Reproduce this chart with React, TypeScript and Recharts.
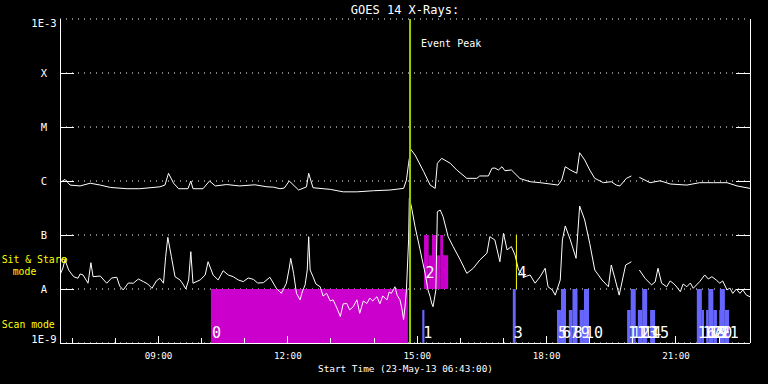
import React from 'react';
import {
  ComposedChart, Line, XAxis, YAxis, CartesianGrid, ReferenceArea,
  ReferenceLine, ReferenceDot, Scatter,
} from 'recharts';

// ---------- data ----------
const TITLE = 'GOES 14 X-Rays:';
const X_LABEL = 'Start Time (23-May-13 06:43:00)';
const START_MINUTES = 6 * 60 + 43; // 06:43
const SPAN_MINUTES = 960;

// hourly ticks in minutes since 06:43
const hourTicks = [17, 77, 137, 197, 257, 317, 377, 437, 497, 557, 617, 677, 737, 797, 857, 917];
const labeledHourTicks = [137, 317, 497, 677, 857];

const fluxTicks = [1e-9, 1e-8, 1e-7, 1e-6, 1e-5, 1e-4, 1e-3];
const fluxTickLabels = ['1E-9', 'A', 'B', 'C', 'M', 'X', '1E-3'];

// 0.1-0.8 nm channel  [minutes, W/m^2]
const longChannel: [number, number | null][] = [
  [0, 0.93e-6], [7, 1.07e-6], [14, 0.84e-6], [28, 0.81e-6], [42, 0.91e-6], [56, 0.84e-6],
  [70, 0.76e-6], [93, 0.72e-6], [111, 0.72e-6], [139, 0.78e-6], [146, 0.84e-6], [151, 1.39e-6],
  [158, 0.91e-6], [165, 0.72e-6], [178, 0.72e-6], [182, 1.0e-6], [185, 0.72e-6], [199, 0.72e-6],
  [208, 1.0e-6], [216, 0.81e-6], [232, 0.86e-6], [250, 0.81e-6], [271, 0.85e-6], [288, 0.78e-6],
  [297, 0.77e-6], [306, 0.72e-6], [312, 0.74e-6], [319, 1.0e-6], [332, 0.68e-6], [343, 0.78e-6],
  [346, 1.39e-6], [352, 0.75e-6], [376, 0.70e-6], [394, 0.63e-6], [413, 0.63e-6], [436, 0.66e-6],
  [459, 0.68e-6], [478, 0.73e-6], [482, 1.04e-6], [485, 2.13e-6], [488, 3.86e-6], [494, 3.03e-6],
  [506, 1.49e-6], [515, 0.84e-6], [522, 0.73e-6], [525, 2.13e-6], [531, 2.63e-6], [543, 2.13e-6],
  [552, 1.60e-6], [566, 1.12e-6], [580, 1.12e-6], [584, 1.24e-6], [596, 1.24e-6], [601, 1.72e-6],
  [605, 1.74e-6], [610, 1.60e-6], [615, 1.84e-6], [619, 1.55e-6], [628, 1.60e-6], [640, 1.11e-6],
  [654, 0.97e-6], [668, 0.93e-6], [682, 0.88e-6], [693, 0.84e-6], [698, 1.04e-6], [703, 1.84e-6],
  [710, 1.60e-6], [719, 1.39e-6], [723, 3.34e-6], [730, 2.45e-6], [737, 1.60e-6], [744, 1.12e-6],
  [756, 0.93e-6], [767, 0.97e-6], [774, 0.84e-6], [779, 0.81e-6], [788, 1.12e-6], [795, 1.24e-6],
  [800, null], [806, 1.17e-6], [821, 0.93e-6], [835, 1.01e-6], [849, 0.88e-6], [872, 0.84e-6],
  [890, 0.93e-6], [909, 0.93e-6], [928, 0.93e-6], [942, 0.81e-6], [960, 0.73e-6],
];

// 0.05-0.4 nm channel  [minutes, W/m^2]
const shortChannel: [number, number | null][] = [
  [0, 1.82e-8], [4, 2.45e-8], [7, 3.44e-8], [12, 2.25e-8], [19, 1.69e-8], [25, 1.58e-8], [28, 1.9e-8],
  [32, 1.82e-8], [39, 1.28e-8], [43, 3.07e-8], [46, 1.69e-8], [56, 1.74e-8], [65, 1.28e-8], [72, 1.6e-8],
  [79, 1.65e-8], [83, 1.14e-8], [88, 0.96e-8], [95, 1.29e-8], [102, 1.28e-8], [109, 1.53e-8],
  [116, 1.37e-8], [122, 1.24e-8], [128, 1.03e-8], [134, 1.41e-8], [139, 1.58e-8], [144, 1.28e-8],
  [147, 3.96e-8], [150, 9.06e-8], [155, 3.96e-8], [160, 1.69e-8], [167, 1.47e-8], [171, 1.24e-8],
  [175, 1.0e-8], [179, 1.47e-8], [182, 4.91e-8], [185, 1.28e-8], [195, 1.47e-8], [202, 1.82e-8],
  [206, 3.2e-8], [213, 1.82e-8], [220, 1.47e-8], [227, 2.18e-8], [234, 1.82e-8], [241, 1.69e-8],
  [248, 1.47e-8], [255, 1.37e-8], [262, 1.6e-8], [269, 1.51e-8], [275, 1.29e-8], [283, 1.31e-8],
  [292, 1.65e-8], [301, 1.03e-8], [308, 0.83e-8], [315, 1.28e-8], [319, 2.45e-8], [321, 3.7e-8],
  [325, 1.95e-8], [329, 0.83e-8], [334, 0.63e-8], [337, 0.88e-8], [341, 1.19e-8], [344, 2.25e-8],
  [346, 9.3e-8], [348, 2.25e-8], [352, 1.69e-8], [356, 1.24e-8], [362, 1.10e-8], [366, 0.74e-8],
  [371, 0.83e-8], [376, 0.6e-8], [380, 0.63e-8], [385, 0.45e-8], [390, 0.31e-8], [394, 0.53e-8],
  [399, 0.54e-8], [403, 0.41e-8], [408, 0.47e-8], [413, 0.63e-8], [417, 0.355e-8], [422, 0.6e-8],
  [427, 0.54e-8], [431, 0.68e-8], [435, 0.6e-8], [441, 0.72e-8], [445, 0.53e-8], [449, 0.74e-8],
  [455, 0.63e-8], [458, 0.88e-8], [461, 0.83e-8], [466, 1.10e-8], [469, 0.77e-8], [473, 0.63e-8],
  [476, 0.41e-8], [478, 0.27e-8], [480, 0.47e-8], [482, 0.96e-8], [485, 8.1e-8], [486, 4.8e-7],
  [489, 3.3e-7], [494, 1.43e-7], [501, 5.3e-8], [508, 1.95e-8], [512, 0.96e-8], [515, 0.72e-8],
  [517, 0.55e-8], [519, 0.47e-8], [523, 0.96e-8], [525, 2.7e-7], [529, 2.9e-7], [533, 2.18e-7],
  [540, 9.3e-8], [547, 6.1e-8], [557, 3.44e-8], [566, 1.95e-8], [575, 2.42e-8], [584, 3.44e-8],
  [594, 4.6e-8], [598, 9.3e-8], [605, 8.1e-8], [612, 3.2e-8], [617, 1.07e-7], [622, 5.3e-8],
  [628, 6.1e-8], [633, 4.27e-8], [638, 2.25e-8], [640, 2.09e-8], [647, 1.69e-8], [654, 1.82e-8],
  [661, 1.28e-8], [668, 1.69e-8], [675, 2.42e-8], [679, 1.10e-8], [685, 0.96e-8], [689, 0.77e-8],
  [696, 1.47e-8], [699, 8.1e-8], [703, 1.47e-7], [710, 8.1e-8], [718, 3.7e-8], [723, 3.44e-7],
  [730, 1.9e-7], [737, 7.0e-8], [744, 2.25e-8], [754, 1.47e-8], [763, 1.10e-8], [767, 2.78e-8],
  [772, 1.58e-8], [778, 0.77e-8], [787, 2.78e-8], [795, 3.2e-8], [800, null], [806, 2.25e-8],
  [814, 1.58e-8], [823, 1.19e-8], [828, 1.35e-8], [832, 2.42e-8], [837, 1.28e-8], [844, 1.10e-8],
  [849, 1.41e-8], [853, 1.28e-8], [857, 1.14e-8], [863, 0.89e-8], [867, 1.24e-8], [872, 1.10e-8],
  [877, 1.29e-8], [881, 1.03e-8], [890, 1.37e-8], [897, 1.82e-8], [902, 1.53e-8], [907, 1.69e-8],
  [913, 1.47e-8], [918, 1.28e-8], [922, 1.41e-8], [928, 0.96e-8], [932, 1.04e-8], [936, 0.83e-8],
  [941, 1.0e-8], [946, 0.83e-8], [950, 0.96e-8], [955, 0.77e-8], [960, 0.72e-8],
];

// observing-mode indicator levels
const SCAN_BASE = 1e-9;
const SCAN_TOP = 1e-8;
const SCAN_PARTIAL_TOP = 4.1e-9;
const SIT_STARE_BASE = 1e-8;

// scan blocks [start, end] in minutes
const longScan: [number, number][] = [[210, 484]];
const scanFull: [number, number][] = [
  [630, 634], [697, 704], [713, 720], [729, 736], [794, 801], [810, 817], [886, 893], [902, 909], [918, 925],
];
const scanPartial: [number, number][] = [
  [504, 507], [691.5, 697], [708, 713], [723, 729], [789, 794], [804, 810], [821, 828],
  [893, 896], [899, 902], [909, 914], [917, 918], [925, 931],
];
// sit & stare blocks [start, end, top flux]
const sitStare: [number, number, number][] = [
  [506.5, 513, 1e-7], [513, 517.5, 4.2e-8], [517.5, 524, 1e-7], [524, 529, 4.2e-8],
  [529, 533, 1e-7], [533, 540, 4.2e-8],
];

// numbered labels [text, start minute, mode]
const scanLabels: [string, number][] = [
  ['0', 210], ['1', 504], ['3', 630], ['5', 691.5], ['6', 697], ['7', 708], ['8', 713], ['9', 723],
  ['10', 729], ['11', 789], ['12', 794], ['13', 804], ['14', 810], ['15', 821], ['16', 886],
  ['17', 893], ['18', 899], ['19', 902], ['20', 909], ['21', 918],
];
const sitStareLabels: [string, number][] = [['2', 507], ['4', 635]];
const SCAN_LABEL_LEVEL = 1.25e-9;
const SIT_STARE_LABEL_LEVEL = 1.6e-8;

const EVENT_PEAK = 487;
const sitStareMarker: [number, number] = [635, 635];
const flareMarker: [number, number] = [6, 3.44e-8];

// ---------- helpers ----------
const longData = longChannel.map(([t, f]) => ({ t, f }));
const shortData = shortChannel.map(([t, f]) => ({ t, f }));
const labelData = [
  ...scanLabels.map(([label, t]) => ({ t, f: SCAN_LABEL_LEVEL, label })),
  ...sitStareLabels.map(([label, t]) => ({ t, f: SIT_STARE_LABEL_LEVEL, label })),
];

const MONO = '"DejaVu Sans Mono", "Liberation Mono", monospace';
const WHITE = '#ffffff';

const fmtTime = (t: number) => {
  const total = START_MINUTES + t;
  const h = Math.floor(total / 60) % 24;
  const m = total % 60;
  return `${String(h).padStart(2, '0')}:${String(m).padStart(2, '0')}`;
};

const LeftTick = (props: any) => {
  const { x, y, payload } = props;
  const i = fluxTicks.indexOf(payload.value);
  const last = fluxTicks.length - 1;
  const dy = i === last ? 8.3 : i === 0 ? 0 : 3.8;
  return (
    <g>
      {i > 0 && i < last && (
        <line x1={x} x2={x + 14} y1={y} y2={y} stroke={WHITE} strokeWidth={1} shapeRendering="crispEdges" />
      )}
      <text x={x - 16} y={y + dy} textAnchor="middle" fill={WHITE} fontFamily={MONO} fontSize={10.5}>
        {fluxTickLabels[i]}
      </text>
    </g>
  );
};

const RightTick = (props: any) => {
  const { x, y, payload } = props;
  const i = fluxTicks.indexOf(payload.value);
  if (i <= 0 || i >= fluxTicks.length - 1) return <g />;
  return <line x1={x - 14} x2={x} y1={y} y2={y} stroke={WHITE} strokeWidth={1} shapeRendering="crispEdges" />;
};

const BottomTick = (props: any) => {
  const { x, y, payload } = props;
  const major = labeledHourTicks.includes(payload.value);
  return (
    <g>
      <line x1={x} x2={x} y1={y} y2={y - (major ? 7 : 5)} stroke={WHITE} strokeWidth={1} shapeRendering="crispEdges" />
      {major && (
        <text x={x} y={y + 16} textAnchor="middle" fill={WHITE} fontFamily={MONO} fontSize={9.2}>
          {fmtTime(payload.value)}
        </text>
      )}
    </g>
  );
};

const TopTick = (props: any) => {
  const { x, y, payload } = props;
  const major = labeledHourTicks.includes(payload.value);
  return <line x1={x} x2={x} y1={y} y2={y + (major ? 7 : 4)} stroke={WHITE} strokeWidth={1} shapeRendering="crispEdges" />;
};

const NumberLabel = (props: any) => {
  const { cx, cy, payload } = props;
  return (
    <text x={cx + 1} y={cy} fill={WHITE} fontFamily={MONO} fontSize={15} textAnchor="start">
      {payload.label}
    </text>
  );
};

const EventLabel = (props: any) => {
  const vb = props.viewBox || {};
  return (
    <text x={vb.x + 11} y={vb.y + 28} fill={WHITE} fontFamily={MONO} fontSize={10}>
      Event Peak
    </text>
  );
};

const axisLine = { stroke: WHITE, strokeWidth: 1, shapeRendering: 'crispEdges' } as any;

export default function App() {
  return (
    <div style={{ position: 'fixed', left: 0, top: 0, width: 768, height: 384, background: '#000', overflow: 'hidden' }}>
      <ComposedChart width={768} height={384} margin={{ top: 19, right: 0, bottom: 0, left: 0 }}>
        <CartesianGrid horizontal vertical={false} stroke={WHITE} strokeDasharray="1 5" />
        <XAxis
          dataKey="t" type="number" domain={[0, SPAN_MINUTES]} allowDataOverflow ticks={hourTicks} interval={0}
          height={41} tickSize={0} tickMargin={0} axisLine={axisLine} tickLine={false} tick={BottomTick}
        />
        <XAxis
          xAxisId="top" orientation="top" type="number" domain={[0, SPAN_MINUTES]} allowDataOverflow ticks={hourTicks}
          interval={0} height={0} tickSize={0} tickMargin={0} axisLine={axisLine} tickLine={false} tick={TopTick}
        />
        <YAxis
          type="number" scale="log" domain={[1e-9, 1e-3]} allowDataOverflow ticks={fluxTicks} interval={0}
          width={60} tickSize={0} tickMargin={0} axisLine={axisLine} tickLine={false} tick={LeftTick}
        />
        <YAxis
          yAxisId="r" orientation="right" type="number" scale="log" domain={[1e-9, 1e-3]} allowDataOverflow
          ticks={fluxTicks} interval={0} width={18} tickSize={0} tickMargin={0} axisLine={axisLine}
          tickLine={false} tick={RightTick}
        />

        {longScan.map(([a, b], i) => (
          <ReferenceArea key={`ls${i}`} x1={a} x2={b} y1={SCAN_BASE} y2={SCAN_TOP} fill="#cc00cc" fillOpacity={1} stroke="none" ifOverflow="visible" />
        ))}
        {scanPartial.map(([a, b], i) => (
          <ReferenceArea key={`sp${i}`} x1={a} x2={b} y1={SCAN_BASE} y2={SCAN_PARTIAL_TOP} fill="#6666ff" fillOpacity={1} stroke="none" ifOverflow="visible" />
        ))}
        {scanFull.map(([a, b], i) => (
          <ReferenceArea key={`sf${i}`} x1={a} x2={b} y1={SCAN_BASE} y2={SCAN_TOP} fill="#6666ff" fillOpacity={1} stroke="none" ifOverflow="visible" />
        ))}
        {sitStare.map(([a, b, top], i) => (
          <ReferenceArea key={`ss${i}`} x1={a} x2={b} y1={SIT_STARE_BASE} y2={top} fill="#cc00cc" fillOpacity={1} stroke="none" ifOverflow="visible" />
        ))}

        <Line data={longData} dataKey="f" type="linear" stroke={WHITE} strokeWidth={1} dot={false} activeDot={false} connectNulls={false} isAnimationActive={false} />
        <Line data={shortData} dataKey="f" type="linear" stroke={WHITE} strokeWidth={1} dot={false} activeDot={false} connectNulls={false} isAnimationActive={false} />

        <ReferenceLine x={EVENT_PEAK} stroke="#99cc00" strokeWidth={2} label={EventLabel} />
        <ReferenceLine
          segment={[{ x: sitStareMarker[0], y: 1e-7 }, { x: sitStareMarker[1], y: 1e-8 }]}
          stroke="#ffff00" strokeWidth={1}
        />
        <ReferenceDot x={flareMarker[0]} y={flareMarker[1]} r={2.5} fill="none" stroke="#ffff00" strokeWidth={1} />

        <Scatter data={labelData} dataKey="f" shape={NumberLabel} isAnimationActive={false} />
      </ComposedChart>

      <svg width={768} height={384} style={{ position: 'absolute', left: 0, top: 0, pointerEvents: 'none' }}>
        <text x={405} y={14} textAnchor="middle" fill={WHITE} fontFamily={MONO} fontSize={12}>{TITLE}</text>
        <text x={405.5} y={372} textAnchor="middle" fill={WHITE} fontFamily={MONO} fontSize={9.4}>{X_LABEL}</text>
        <text x={1.7} y={262.5} fill="#ffff00" fontFamily={MONO} fontSize={9.8}>Sit &amp; Stare</text>
        <text x={12.7} y={275} fill="#ffff00" fontFamily={MONO} fontSize={9.8}>mode</text>
        <text x={1.7} y={328} fill="#ffff00" fontFamily={MONO} fontSize={9.8}>Scan mode</text>
      </svg>
    </div>
  );
}
